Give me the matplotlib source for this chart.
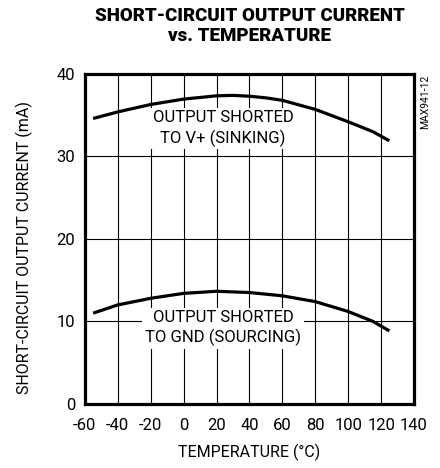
import matplotlib
matplotlib.use('Agg')
import matplotlib.pyplot as plt

plt.rcParams['font.family'] = ['Roboto', 'DejaVu Sans']
plt.rcParams['axes.unicode_minus'] = False

# --- Dados ---
temp_sink = [-55, -40, -20, 0, 20, 30, 40, 50, 60, 80, 100, 115, 125]
corr_sink = [34.6, 35.4, 36.3, 36.95, 37.35, 37.4, 37.3, 37.1, 36.8, 35.7, 34.2, 33.0, 31.9]
temp_src = [-55, -40, -20, 0, 20, 40, 60, 80, 100, 115, 125]
corr_src = [11.0, 12.0, 12.8, 13.4, 13.65, 13.5, 13.1, 12.4, 11.2, 10.0, 8.85]
x_ticks = [-60, -40, -20, 0, 20, 40, 60, 80, 100, 120, 140]
y_ticks = [0, 10, 20, 30, 40]

fig = plt.figure(figsize=(4.4, 4.68), dpi=100)
ax = fig.add_axes([0.193, 0.137, 0.748, 0.705])

ax.plot(temp_sink, corr_sink, color='black', linewidth=2.3, zorder=4, solid_capstyle='butt')
ax.plot(temp_src, corr_src, color='black', linewidth=2.3, zorder=4, solid_capstyle='butt')

ax.set_xlim(-60, 140)
ax.set_ylim(0, 40)
ax.set_xticks(x_ticks)
ax.set_yticks(y_ticks)
ax.grid(True, color='black', linewidth=0.8)
ax.set_axisbelow(True)
ax.tick_params(length=0, labelsize=12, pad=7)
ax.tick_params(axis='x', pad=10)
for s in ax.spines.values():
    s.set_linewidth(2.3)
    s.set_zorder(5)

ax.set_xlabel('TEMPERATURE (°C)', fontsize=11.5, labelpad=8)
ax.set_ylabel('SHORT-CIRCUIT OUTPUT CURRENT (mA)', fontsize=11.5)
ax.yaxis.set_label_coords(-0.158, 0.474)

caixa = dict(facecolor='white', edgecolor='none', pad=2)
ax.text(24, 33.4, 'OUTPUT SHORTED\nTO V+ (SINKING)', ha='center', va='center',
        fontsize=12, linespacing=1.3, bbox=caixa, zorder=3)
ax.text(24, 9.2, 'OUTPUT SHORTED\nTO GND (SOURCING)', ha='center', va='center',
        fontsize=12, linespacing=1.3, bbox=caixa, zorder=3)

fig.text(0.568, 0.985, 'SHORT-CIRCUIT OUTPUT CURRENT\nvs. TEMPERATURE', ha='center', va='top',
         fontsize=13.5, fontweight='heavy', linespacing=1.15)
fig.text(0.966, 0.84, 'MAX941-12', rotation=90, ha='center', va='top', fontsize=7.5)

plt.savefig('out.png', dpi=100)
